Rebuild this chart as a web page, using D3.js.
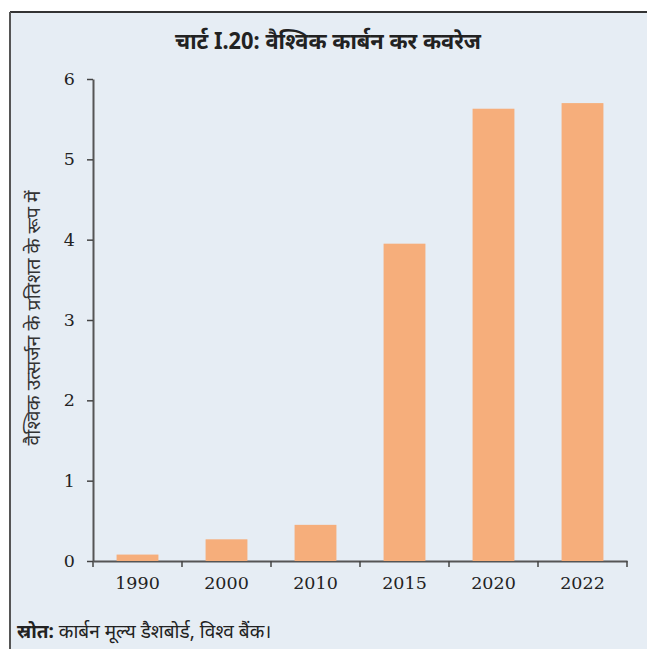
<!DOCTYPE html>
<html>
<head>
<meta charset="utf-8">
<script src="https://cdn.jsdelivr.net/npm/d3@7"></script>
<style>
  body { margin: 0; background: #ffffff; }
</style>
</head>
<body>
<svg id="chart" width="647" height="649"></svg>
<script>
var years = ["1990", "2000", "2010", "2015", "2020", "2022"];
var coverage = [0.08, 0.27, 0.45, 3.95, 5.63, 5.70];
var yTicks = [0, 1, 2, 3, 4, 5, 6];

var titleText = "चार्ट I.20: वैश्विक कार्बन कर कवरेज";
var yLabel = "वैश्विक उत्सर्जन के प्रतिशत के रूप में";
var sourceBold = "स्रोत:";
var sourceText = " कार्बन मूल्य डैशबोर्ड, विश्व बैंक।";

var data = years.map(function (y, i) { return { year: y, value: coverage[i] }; });

var svg = d3.select("#chart");

// panel background + frame (left and top edges only)
svg.append("rect")
  .attr("x", 10).attr("y", 12)
  .attr("width", 637).attr("height", 637)
  .attr("fill", "#e6edf4");
svg.append("line")
  .attr("x1", 10).attr("y1", 12).attr("x2", 647).attr("y2", 12)
  .attr("stroke", "#333").attr("stroke-width", 2);
svg.append("line")
  .attr("x1", 10).attr("y1", 12).attr("x2", 10).attr("y2", 649)
  .attr("stroke", "#555").attr("stroke-width", 2);

svg.append("text")
  .attr("x", 328).attr("y", 49)
  .attr("text-anchor", "middle")
  .attr("textLength", 306)
  .attr("lengthAdjust", "spacingAndGlyphs")
  .style("font-family", "'Noto Sans', sans-serif")
  .style("font-weight", "bold")
  .style("font-size", "23px")
  .attr("fill", "#222")
  .text(titleText);

var x = d3.scaleBand()
  .domain(years)
  .range([93, 627])
  .paddingInner(0.53)
  .paddingOuter(0.265);

var y = d3.scaleLinear()
  .domain([0, 6])
  .range([561, 79]);

var gx = svg.append("g")
  .attr("transform", "translate(0,561)")
  .call(d3.axisBottom(x).tickSize(6).tickSizeOuter(0).tickPadding(10));

// tick marks sit on the band edges, not centres
gx.selectAll(".tick line").remove();
var edges = years.map(function (d) { return x(d) - x.step() * x.paddingInner() / 2; });
edges.push(627);
gx.selectAll(".edge")
  .data(edges)
  .enter()
  .append("line")
  .attr("x1", function (d) { return d; })
  .attr("x2", function (d) { return d; })
  .attr("y1", 0).attr("y2", 6)
  .attr("stroke", "#444").attr("stroke-width", 1.5);

var gy = svg.append("g")
  .attr("transform", "translate(93,0)")
  .call(d3.axisLeft(y).tickValues(yTicks).tickFormat(d3.format("d")).tickSize(6).tickSizeOuter(0).tickPadding(12));

[gx, gy].forEach(function (g) {
  g.select(".domain").attr("stroke", "#555").attr("stroke-width", 2);
  g.selectAll(".tick line").attr("stroke", "#444").attr("stroke-width", 1.5);
  g.selectAll("text")
    .style("font-family", "'DejaVu Serif', serif")
    .style("font-size", "17.5px")
    .attr("fill", "#222");
});

svg.selectAll(".bar")
  .data(data)
  .enter()
  .append("rect")
  .attr("class", "bar")
  .attr("x", function (d) { return x(d.year); })
  .attr("y", function (d) { return y(d.value); })
  .attr("width", x.bandwidth())
  .attr("height", function (d) { return y(0) - y(d.value); })
  .attr("fill", "#f6ae7b");

svg.append("text")
  .attr("transform", "translate(40,318) rotate(-90)")
  .attr("text-anchor", "middle")
  .attr("textLength", 255)
  .attr("lengthAdjust", "spacingAndGlyphs")
  .style("font-family", "'Noto Sans', sans-serif")
  .style("font-size", "18.5px")
  .attr("fill", "#333")
  .text(yLabel);

var src = svg.append("text")
  .attr("x", 17).attr("y", 638)
  .style("font-family", "'Noto Sans', sans-serif")
  .style("font-size", "19px")
  .attr("fill", "#222");
src.append("tspan").style("font-weight", "bold").text(sourceBold);
src.append("tspan").text(sourceText);
</script>
</body>
</html>
